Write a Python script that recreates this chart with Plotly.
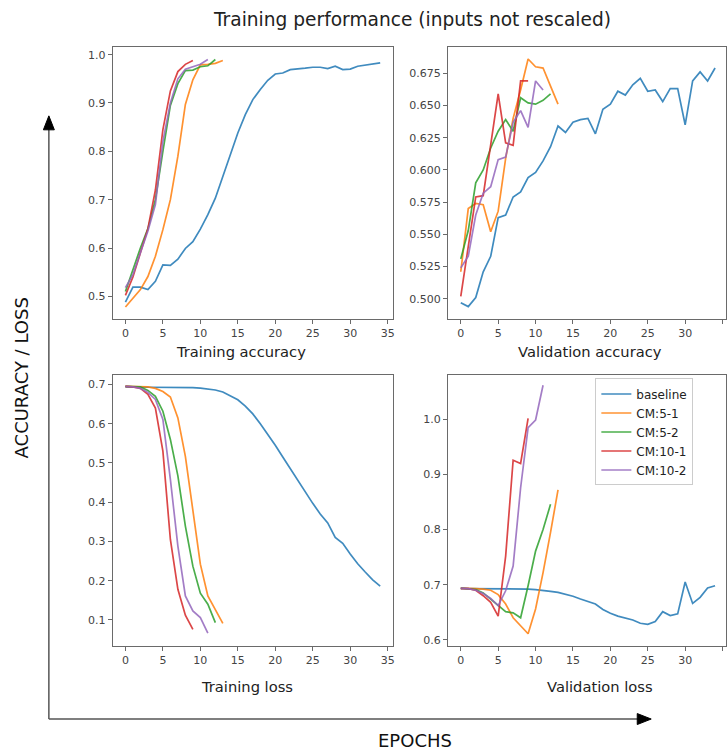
import plotly.graph_objects as go

# ---------------- data ----------------
series_names = ["baseline", "CM:5-1", "CM:5-2", "CM:10-1", "CM:10-2"]
colors = ["#1f77b4", "#ff7f0e", "#2ca02c", "#d62728", "#9467bd"]

train_acc_baseline = [0.488, 0.519, 0.519, 0.514, 0.531, 0.565, 0.564, 0.577, 0.599, 0.613,
                      0.639, 0.669, 0.703, 0.748, 0.793, 0.838, 0.876, 0.907, 0.928, 0.947,
                      0.960, 0.962, 0.969, 0.970, 0.972, 0.974, 0.974, 0.971, 0.976, 0.969,
                      0.970, 0.976, 0.978, 0.981, 0.983]
train_acc_cm51 = [0.478, 0.497, 0.514, 0.541, 0.583, 0.638, 0.700, 0.790, 0.897, 0.948,
                  0.979, 0.980, 0.982, 0.988]
train_acc_cm52 = [0.510, 0.555, 0.600, 0.640, 0.700, 0.800, 0.895, 0.940, 0.967, 0.968,
                  0.975, 0.977, 0.990]
train_acc_cm101 = [0.502, 0.540, 0.590, 0.640, 0.720, 0.845, 0.925, 0.965, 0.980, 0.988]
train_acc_cm102 = [0.518, 0.545, 0.590, 0.635, 0.690, 0.820, 0.900, 0.950, 0.970, 0.975,
                   0.980, 0.990]

val_acc_baseline = [0.497, 0.494, 0.501, 0.521, 0.533, 0.563, 0.565, 0.579, 0.583, 0.594,
                    0.598, 0.607, 0.618, 0.634, 0.629, 0.637, 0.639, 0.640, 0.628, 0.647,
                    0.651, 0.661, 0.658, 0.666, 0.671, 0.661, 0.662, 0.653, 0.663, 0.663,
                    0.635, 0.669, 0.676, 0.669, 0.679]
val_acc_cm51 = [0.521, 0.570, 0.574, 0.573, 0.552, 0.568, 0.609, 0.640, 0.662, 0.686,
                0.680, 0.679, 0.665, 0.651]
val_acc_cm52 = [0.531, 0.553, 0.590, 0.600, 0.617, 0.630, 0.639, 0.630, 0.656, 0.652,
                0.651, 0.654, 0.659]
val_acc_cm101 = [0.502, 0.540, 0.579, 0.580, 0.620, 0.659, 0.621, 0.619, 0.669, 0.669]
val_acc_cm102 = [0.524, 0.533, 0.565, 0.582, 0.587, 0.608, 0.610, 0.637, 0.646, 0.633,
                 0.669, 0.662]

train_loss_baseline = [0.694, 0.693, 0.693, 0.693, 0.693, 0.693, 0.693, 0.693, 0.693, 0.692,
                       0.691, 0.689, 0.686, 0.681, 0.672, 0.661, 0.645, 0.625, 0.600, 0.573,
                       0.545, 0.515, 0.485, 0.455, 0.425, 0.397, 0.370, 0.347, 0.310, 0.295,
                       0.268, 0.243, 0.222, 0.202, 0.186]
train_loss_cm51 = [0.695, 0.695, 0.695, 0.694, 0.690, 0.682, 0.668, 0.615, 0.517, 0.382,
                   0.242, 0.161, 0.127, 0.091]
train_loss_cm52 = [0.695, 0.695, 0.694, 0.685, 0.670, 0.632, 0.560, 0.467, 0.339, 0.237,
                   0.168, 0.140, 0.093]
train_loss_cm101 = [0.695, 0.694, 0.690, 0.675, 0.640, 0.530, 0.305, 0.178, 0.112, 0.076]
train_loss_cm102 = [0.695, 0.694, 0.690, 0.680, 0.662, 0.611, 0.458, 0.288, 0.161, 0.123,
                    0.106, 0.066]

val_loss_baseline = [0.693, 0.693, 0.693, 0.693, 0.693, 0.693, 0.693, 0.693, 0.693, 0.692,
                     0.691, 0.690, 0.688, 0.686, 0.683, 0.679, 0.674, 0.670, 0.665, 0.655,
                     0.648, 0.643, 0.640, 0.636, 0.630, 0.628, 0.633, 0.651, 0.644, 0.647,
                     0.705, 0.666, 0.677, 0.694, 0.698]
val_loss_cm51 = [0.694, 0.694, 0.693, 0.692, 0.690, 0.682, 0.665, 0.640, 0.625, 0.611,
                 0.656, 0.722, 0.795, 0.872]
val_loss_cm52 = [0.694, 0.693, 0.691, 0.685, 0.674, 0.662, 0.651, 0.649, 0.640, 0.698,
                 0.761, 0.800, 0.846]
val_loss_cm101 = [0.693, 0.693, 0.690, 0.680, 0.668, 0.643, 0.752, 0.926, 0.920, 1.002]
val_loss_cm102 = [0.694, 0.693, 0.690, 0.684, 0.675, 0.662, 0.689, 0.734, 0.876, 0.985,
                  0.999, 1.062]

panels = [
    ("x", "y", [train_acc_baseline, train_acc_cm51, train_acc_cm52, train_acc_cm101, train_acc_cm102]),
    ("x2", "y2", [val_acc_baseline, val_acc_cm51, val_acc_cm52, val_acc_cm101, val_acc_cm102]),
    ("x3", "y3", [train_loss_baseline, train_loss_cm51, train_loss_cm52, train_loss_cm101, train_loss_cm102]),
    ("x4", "y4", [val_loss_baseline, val_loss_cm51, val_loss_cm52, val_loss_cm101, val_loss_cm102]),
]

panel_titles = ["Training accuracy", "Validation accuracy", "Training loss", "Validation loss"]
x_ticks = [0, 5, 10, 15, 20, 25, 30, 35]

W, H = 728, 754

def px(x):
    return x / W

def py(y):
    return 1 - y / H

fig = go.Figure()
for pi, (xa, ya, data) in enumerate(panels):
    for si, vals in enumerate(data):
        fig.add_trace(go.Scatter(
            x=list(range(len(vals))), y=vals, mode="lines",
            name=series_names[si], xaxis=xa, yaxis=ya,
            line=dict(color=colors[si], width=1.7),
            opacity=0.85,
            showlegend=(pi == 3),
        ))

FONT = "DejaVu Sans"
frame_col = "#6a6a6a"
tick_font = dict(family=FONT, size=11, color="#444")

def xaxis(domain, rng, anchor):
    return dict(domain=domain, range=rng, anchor=anchor, tickvals=x_ticks,
                showgrid=False, zeroline=False, showline=True, mirror=True,
                linecolor=frame_col, linewidth=1, ticks="outside", ticklen=4,
                tickcolor=frame_col, tickfont=tick_font)

def yaxis(domain, rng, anchor, tickvals, fmt):
    return dict(domain=domain, range=rng, anchor=anchor, tickvals=tickvals,
                tickformat=fmt, showgrid=False, zeroline=False, showline=True,
                mirror=True, linecolor=frame_col, linewidth=1, ticks="outside",
                ticklen=4, tickcolor=frame_col, tickfont=tick_font)

xl = [px(113), px(394)]
xr = [px(449.3), 1.0]
yt = [py(319), py(46.7)]
yb = [py(646.7), py(375)]

fig.update_layout(
    width=W, height=H,
    margin=dict(l=0, r=0, t=0, b=0),
    paper_bgcolor="white", plot_bgcolor="white",
    font=dict(family=FONT),
    xaxis=xaxis(xl, [-1.7, 35.7], "y"),
    yaxis=yaxis(yt, [0.454, 1.0166], "x", [0.5, 0.6, 0.7, 0.8, 0.9, 1.0], ".1f"),
    xaxis2=xaxis(xr, [-1.7, -1.7 + (728 - 449.3) / 7.5], "y2"),
    yaxis2=yaxis(yt, [0.4847, 0.6956], "x2",
                 [0.5, 0.525, 0.55, 0.575, 0.6, 0.625, 0.65, 0.675], ".3f"),
    xaxis3=xaxis(xl, [-1.7, 35.7], "y3"),
    yaxis3=yaxis(yb, [0.0338, 0.7255], "x3", [0.1, 0.2, 0.3, 0.4, 0.5, 0.6, 0.7], ".1f"),
    xaxis4=xaxis(xr, [-1.7, -1.7 + (728 - 449.3) / 7.5], "y4"),
    yaxis4=yaxis(yb, [0.589, 1.0816], "x4", [0.6, 0.7, 0.8, 0.9, 1.0], ".1f"),
    legend=dict(x=px(597), y=py(379), xanchor="left", yanchor="top",
                bgcolor="white", bordercolor="#cccccc", borderwidth=1,
                font=dict(family=FONT, size=12, color="#222"),
                tracegroupgap=0, itemwidth=30),
    showlegend=True,
)

annotations = [
    dict(text="Training performance (inputs not rescaled)", x=px(413.5), y=py(20),
         font=dict(size=18.6, color="#222")),
    dict(text="Training accuracy", x=px(241.5), y=py(352), font=dict(size=14.7, color="#222")),
    dict(text="Validation accuracy", x=px(591.5), y=py(352), font=dict(size=14.7, color="#222")),
    dict(text="Training loss", x=px(247.5), y=py(687), font=dict(size=14.7, color="#222")),
    dict(text="Validation loss", x=px(601.7), y=py(687), font=dict(size=14.7, color="#222")),
    dict(text="ACCURACY / LOSS", x=px(22), y=py(378), textangle=-90,
         font=dict(size=18, color="#111")),
    dict(text="EPOCHS", x=px(416.5), y=py(741), font=dict(size=18, color="#111")),
]
for a in annotations:
    a.update(xref="paper", yref="paper", showarrow=False, xanchor="center", yanchor="middle")
    a["font"]["family"] = FONT
fig.update_layout(annotations=annotations)

shapes = [
    dict(type="line", x0=px(49), y0=py(720), x1=px(49), y1=py(128),
         line=dict(color="#555", width=1.5)),
    dict(type="line", x0=px(49), y0=py(720), x1=px(641), y1=py(720),
         line=dict(color="#555", width=1.5)),
    dict(type="path",
         path=f"M {px(43.5)} {py(130)} L {px(54.5)} {py(130)} L {px(49)} {py(116)} Z",
         fillcolor="black", line=dict(color="black", width=1)),
    dict(type="path",
         path=f"M {px(639)} {py(714.5)} L {px(639)} {py(725.5)} L {px(653)} {py(720)} Z",
         fillcolor="black", line=dict(color="black", width=1)),
]
for s in shapes:
    s.update(xref="paper", yref="paper")
fig.update_layout(shapes=shapes)

fig.write_html(
    "out.html",
    config={"displayModeBar": False},
    post_script="document.body.style.margin='0';document.body.style.overflow='hidden';",
)
